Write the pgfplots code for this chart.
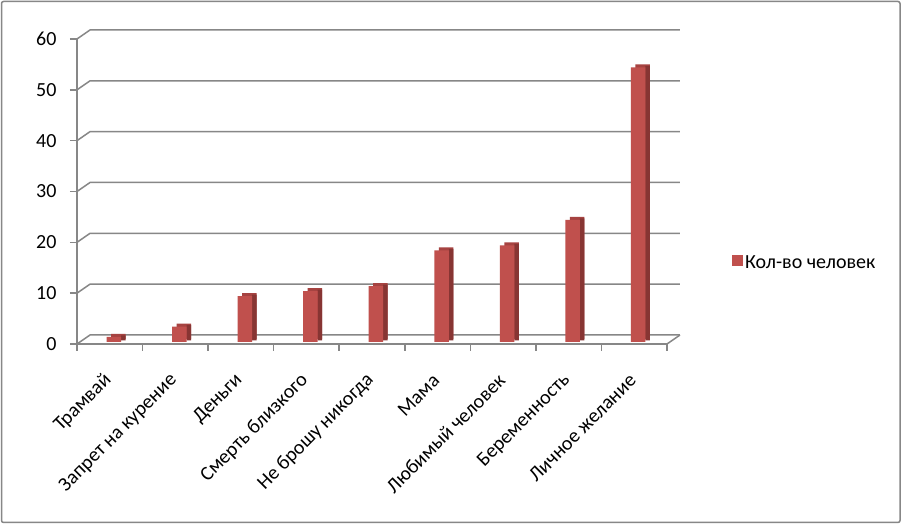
\documentclass[border=0pt]{standalone}
\usepackage{fontspec}
\setmainfont{Carlito}
\usepackage{pgfplots}
\pgfplotsset{compat=1.18}
\definecolor{gridc}{HTML}{878787}
\definecolor{barfront}{HTML}{C0504D}
\definecolor{bartop}{HTML}{A64341}
\definecolor{barside}{HTML}{873533}

\begin{document}
\begin{tikzpicture}
\useasboundingbox (0,0) rectangle (903pt,526pt);
\fill[white] (0,0) rectangle (903pt,526pt);
\begin{axis}[
  scale only axis,
  width=590pt, height=305pt,
  at={(77pt,182pt)}, anchor=south west,
  xmin=0, xmax=9, ymin=0, ymax=60,
  enlargelimits=false,
  axis lines*=left,
  axis line style={draw=gridc, line width=1.5pt, -},
  ytick={0,10,...,60},
  xtick={0.5,1.5,...,8.5},
  xticklabels={Трамвай, Запрет на курение, Деньги, Смерть близкого, Не брошу никогда, Мама, Любимый человек, Беременность, Личное желание},
  minor xtick={0,...,9},
  tick align=outside,
  major tick length=7pt, minor tick length=7pt,
  xtick style={draw=none},
  minor x tick style={draw=gridc, line width=1.5pt},
  ytick style={draw=gridc, line width=1.5pt},
  /pgf/number format/assume math mode=true,
  yticklabel style={font=\fontsize{20}{22}\selectfont, xshift=-10pt},
  xticklabel style={font=\fontsize{20}{22}\selectfont, xshift=1pt, yshift=-24pt, rotate=45, anchor=east},
  legend style={at={(1.110,0.266)}, anchor=west, draw=none, fill=none,
    font=\fontsize{20}{22}\selectfont, inner xsep=0pt},
  legend image code/.code={\fill[#1] (-4pt,-5.5pt) rectangle (7pt,5.5pt);},
  clip=false,
]
% back wall and floor
\pgfplotsinvokeforeach{0,10,...,60}{
  \draw[gridc, line width=1.5pt] (axis cs:0,#1) -- ++(13pt,9pt) -- ([shift={(13pt,9pt)}]axis cs:9,#1);
}
\draw[gridc, line width=1.5pt] (axis cs:9,0) -- ++(13pt,9pt);
% bar tops
\addplot[ybar, bar width=14.5pt, bar shift=8.5pt, yshift=5pt, fill=bartop, draw=none, forget plot]
  coordinates {(0.5,1) (1.5,3) (2.5,9) (3.5,10) (4.5,11) (5.5,18) (6.5,19) (7.5,24) (8.5,54)};
% bar sides
\addplot[ybar, bar width=4.5pt, bar shift=13.5pt, yshift=3.5pt, fill=barside, draw=none, forget plot]
  coordinates {(0.5,1) (1.5,3) (2.5,9) (3.5,10) (4.5,11) (5.5,18) (6.5,19) (7.5,24) (8.5,54)};
% bar fronts
\addplot[ybar, bar width=14.5pt, bar shift=4pt, yshift=2pt, fill=barfront, draw=none]
  coordinates {(0.5,1) (1.5,3) (2.5,9) (3.5,10) (4.5,11) (5.5,18) (6.5,19) (7.5,24) (8.5,54)};
\addlegendentry{Кол-во человек}
\end{axis}
\draw[gridc, line width=1.5pt, rounded corners=2pt] (1.5pt,3.5pt) rectangle (900pt,524.5pt);
\end{tikzpicture}
\end{document}
